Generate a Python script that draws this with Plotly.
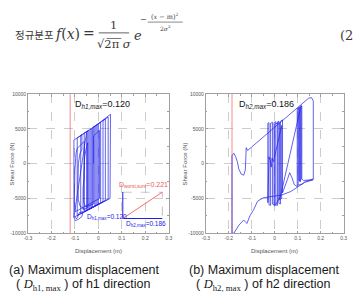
import plotly.graph_objects as go

W, H = 353, 297

# ---------------- data ----------------
# h1-direction hysteresis: displacement (m) / shear force (N)
h1_x = [-0.02, -0.02, 0.01, 0.01, -0.06, -0.06, -0.03, -0.03, -0.104, -0.104,
        -0.045, -0.045, -0.01, -0.01, 0.042, 0.042, 0.0, 0.0, 0.052, 0.05,
        -0.035, -0.035, -0.005, -0.005, -0.075, -0.075, -0.04, -0.04, 0.02, 0.02,
        0.03, 0.03, -0.015, -0.015, -0.025, -0.025, -0.09, -0.09, -0.07, -0.07,
        -0.078, -0.085, -0.087, -0.085, -0.078, -0.06, -0.045, -0.045, -0.05, -0.058,
        -0.062, -0.062, -0.055, -0.02, -0.02, 0.005, 0.005, -0.098, -0.102, -0.1,
        -0.095, -0.09, -0.06, -0.06, -0.065, -0.065, -0.05, -0.05, -0.104, -0.098,
        -0.085, -0.07, -0.065, -0.08, -0.092, -0.1]
h1_y = [0, 5300, 5950, -5650, -6900, 4400, 5050, -6400, -7700, 3400,
        4700, -6650, -6000, 5500, 6700, -5100, -5850, 5750, 7100, -5000,
        -6500, 4900, 5600, -5950, -7200, 4050, 4800, -6550, -5500, 6200,
        6400, -5300, -6100, 5400, 5200, -6300, -7450, 3700, 4150, 2000,
        1500, 0, -3000, -5200, -6100, -6500, -6300, 3000, 2500, 1000,
        -1500, -5500, -6200, -5800, 4000, 4800, -5000, -6900, -5500, -1000,
        1500, 2200, 3200, -2000, -3500, -6600, -6700, 4500, -7700, -8200,
        -8000, -7600, -6900, -7000, -7900, -7700]

# h2-direction hysteresis
h2_x = [-0.186, -0.186, -0.178, -0.170, -0.163, -0.156, -0.146, -0.135, -0.128, -0.125,
        -0.124, -0.118, 0.147, 0.160, 0.168, 0.168, 0.150, 0.125, 0.118, 0.118,
        0.112, 0.112, 0.105, 0.105, 0.098, 0.098, 0.085, 0.075, 0.065, 0.055,
        0.04, 0.034, 0.034, 0.025, 0.025, 0.018, 0.018, 0.012, 0.012, 0.005,
        0.005, -0.003, -0.003, -0.01, -0.01, -0.018, -0.018, -0.025, -0.025, -0.03,
        -0.03, -0.025, -0.02, -0.015, -0.012, -0.005, 0.03, 0.03, 0.02, 0.02,
        0.0, 0.0, 0.025, 0.115, 0.115, 0.108, 0.108, 0.102, 0.102, 0.12,
        0.135, 0.168]
h2_y = [-10000, 1200, 1500, 1000, 300, -800, -1500, -1650, -900, 900,
        2300, 1900, 9400, 9500, 9000, -2200, -2350, -2400, -2200, 8300,
        8100, -2600, -2400, 8000, 7900, -3300, -3000, -2000, -1300, -2300,
        -3800, -4200, 6300, 6100, -5800, -5700, 6100, 6000, -6000, -5900,
        6050, 5900, -5950, -5800, 5950, 5800, -6000, -5900, 5900, 5800,
        -5600, 1000, 500, -500, 800, 300, 5500, -5000, -5200, 5900,
        5700, -6100, -4700, 8400, -2300, -2500, 8200, 8000, -3100, -2900,
        -2500, -2300]
h2_low_x = [-0.186, -0.178, -0.156, -0.135, -0.121, -0.107, -0.093, -0.075, -0.05, -0.02,
            0.03, 0.07, 0.1, 0.13, 0.168]
h2_low_y = [-10000, -10000, -8830, -8110, -8590, -7420, -6710, -5400, -4900, -4750,
            -4500, -4000, -3400, -2700, -2300]

d_h1_max = 0.120
d_h2_max = 0.186
d_worst_sum = 0.221

x_ticks = [-0.3, -0.2, -0.1, 0, 0.1, 0.2, 0.3]
x_tick_labels = ["-0.3", "-0.2", "-0.1", "0", "0.1", "0.2", "0.3"]
y_ticks = [-10000, -5000, 0, 5000, 10000]
y_tick_labels = ["-10000", "-5000", "0", "5000", "10000"]
disp_range = [-0.3, 0.3]
force_range = [-10000, 10000]

# ---------------- helpers ----------------
def PX(x):
    return x / W

def PY(y):
    return 1 - y / H

BLUE = "#2020e8"
RED = "#f07070"
SERIF = "DejaVu Serif"
SANS = "Liberation Sans"
FRAME = "#a0a0a0"

fig = go.Figure()

# left plot
fig.add_trace(go.Scatter(x=[-d_h1_max, -d_h1_max], y=force_range, mode="lines",
                         line=dict(color=RED, width=0.8), xaxis="x", yaxis="y"))
fig.add_trace(go.Scatter(x=h1_x, y=h1_y, mode="lines",
                         line=dict(color=BLUE, width=0.7), xaxis="x", yaxis="y"))
# right plot
fig.add_trace(go.Scatter(x=[-d_h2_max, -d_h2_max], y=force_range, mode="lines",
                         line=dict(color=RED, width=0.8), xaxis="x2", yaxis="y2"))
fig.add_trace(go.Scatter(x=h2_low_x, y=h2_low_y, mode="lines",
                         line=dict(color=BLUE, width=0.7), xaxis="x2", yaxis="y2"))
fig.add_trace(go.Scatter(x=h2_x, y=h2_y, mode="lines",
                         line=dict(color=BLUE, width=0.7), xaxis="x2", yaxis="y2"))
# inset vector diagram
fig.add_trace(go.Scatter(x=[0, d_h2_max, d_h2_max], y=[d_h1_max, d_h1_max, 0], mode="lines",
                         line=dict(color="#a0a0a0", width=0.7, dash="dash"), xaxis="x3", yaxis="y3"))
fig.add_trace(go.Scatter(x=[0, d_h2_max], y=[0, 0], mode="lines",
                         line=dict(color=BLUE, width=1.1), xaxis="x3", yaxis="y3"))
fig.add_trace(go.Scatter(x=[0, 0], y=[0, d_h1_max], mode="lines",
                         line=dict(color=BLUE, width=1.1), xaxis="x3", yaxis="y3"))
fig.add_trace(go.Scatter(x=[0, d_h2_max], y=[0, d_h1_max], mode="lines",
                         line=dict(color=RED, width=1.0), xaxis="x3", yaxis="y3"))

ydom = [PY(235), PY(93)]

def xax(dom):
    return dict(domain=dom, range=disp_range, tickvals=x_ticks, ticktext=x_tick_labels,
                ticks="inside", ticklen=2.5, tickwidth=0.6, tickcolor=FRAME,
                showline=True, linecolor=FRAME, linewidth=0.8, mirror="ticks",
                showgrid=True, gridcolor="#cccccc", gridwidth=0.6, griddash="dash",
                zeroline=False, tickfont=dict(family=SANS, size=5, color="#555"),
                minor=dict(ticks="inside", ticklen=1.5, dtick=0.05, tickcolor=FRAME, tickwidth=0.5),
                fixedrange=True)

def yax(anchor):
    return dict(domain=ydom, range=force_range, tickvals=y_ticks, ticktext=y_tick_labels,
                ticks="inside", ticklen=2.5, tickwidth=0.6, tickcolor=FRAME,
                showline=True, linecolor=FRAME, linewidth=0.8, mirror="ticks",
                showgrid=True, gridcolor="#cccccc", gridwidth=0.6, griddash="dash",
                zeroline=False, tickfont=dict(family=SANS, size=5, color="#555"),
                minor=dict(ticks="inside", ticklen=1.5, dtick=2500, tickcolor=FRAME, tickwidth=0.5),
                anchor=anchor, fixedrange=True)

# inset domain: x from 0 to d_h2_max spans px 121.5..162 ; y 0..d_h1_max spans py 220..193
ix0, ix1 = -0.003, 0.19
iy0, iy1 = -0.003, 0.123
sx = (162 - 121.5) / d_h2_max
sy = (220 - 193) / d_h1_max

fig.update_layout(
    width=W, height=H, autosize=False,
    margin=dict(l=0, r=0, t=0, b=0),
    paper_bgcolor="white", plot_bgcolor="rgba(0,0,0,0)",
    showlegend=False,
    xaxis=xax([PX(24.5), PX(168.5)]),
    yaxis=yax("x"),
    xaxis2=xax([PX(206.5), PX(347.5)]),
    yaxis2=yax("x2"),
    xaxis3=dict(domain=[PX(121.5 + ix0 * sx), PX(121.5 + ix1 * sx)], range=[ix0, ix1],
                visible=False, anchor="y3", fixedrange=True),
    yaxis3=dict(domain=[PY(220 - iy0 * sy), PY(220 - iy1 * sy)], range=[iy0, iy1],
                visible=False, anchor="x3", fixedrange=True),
)

ann = []

def A(text, x, y, size, color="#333", family=SANS, xanchor="left", angle=0):
    ann.append(dict(text=text, x=PX(x), y=PY(y), xref="paper", yref="paper",
                    xanchor=xanchor, yanchor="middle", showarrow=False, textangle=angle,
                    font=dict(family=family, size=size, color=color)))

# formula
A("정규분포", 9, 32, 10.5, "#3a3a3a", "Noto Sans CJK KR")
A("<i>f</i>(<i>x</i>)", 50, 32, 14, "#3a3a3a", SERIF)
A("=", 87, 31, 14, "#3a3a3a", SERIF, "center")
A("1", 112.5, 22, 11.5, "#3a3a3a", SERIF, "center")
A("√2π <i>σ</i>", 113, 42, 11.5, "#3a3a3a", SERIF, "center")
A("<i>e</i>", 131, 33, 13, "#3a3a3a", SERIF)
A("−", 143, 16.5, 8, "#3a3a3a", SERIF, "center")
A("(<i>x</i> − m)<sup>2</sup>", 165, 14, 6.5, "#3a3a3a", SERIF, "center")
A("2<i>σ</i><sup>2</sup>", 165, 26, 6, "#3a3a3a", SERIF, "center")
A("(2", 342, 33, 13, "#3a3a3a", SERIF)

# plot labels
A("D<sub><i>h1,max</i></sub>=%.3f" % d_h1_max, 71, 104, 9, "#111")
A("D<sub><i>h2,max</i></sub>=%.3f" % d_h2_max, 238, 104, 9, "#111")
A("D<sub>worst,sum</sub>=%.3f" % d_worst_sum, 116, 186, 7, "#e85a5a")
A("D<sub>h1,max</sub>=%.3f" % d_h1_max, 83, 218, 6.5, BLUE)
A("D<sub>h2,max</sub>=%.3f" % d_h2_max, 123, 226, 6.5, BLUE)

# axis titles
A("Shear Force (N)", 8, 164, 6, "#555", SANS, "center", -90)
A("Shear Force (N)", 185, 164, 6, "#555", SANS, "center", -90)
A("Displacement (m)", 96.5, 253, 6, "#555", SANS, "center")
A("Displacement (m)", 277, 253, 6, "#555", SANS, "center")

# captions
A("(a) Maximum displacement", 82.5, 272, 12.5, "#1a1a1a", SANS, "center")
A("(b) Maximum displacement", 266.5, 272, 12.5, "#1a1a1a", SANS, "center")
A("( <i><span style='font-family:Liberation Serif'>D</span></i><sub><span style='font-family:Liberation Serif'>h1, max</span></sub> ) of h1 direction",
  81, 287.5, 12.5, "#1a1a1a", SANS, "center")
A("( <i><span style='font-family:Liberation Serif'>D</span></i><sub><span style='font-family:Liberation Serif'>h2, max</span></sub> ) of h2 direction",
  266, 287.5, 12.5, "#1a1a1a", SANS, "center")

fig.update_layout(annotations=ann)

# fraction bars and radical overline
def L(x0, y0, x1, y1, w=0.8):
    return dict(type="line", xref="paper", yref="paper", x0=PX(x0), y0=PY(y0), x1=PX(x1), y1=PY(y1),
                line=dict(color="#3a3a3a", width=w))

fig.update_layout(shapes=[L(97, 30.5, 128, 30.5), L(105, 36.2, 120, 36.2, 0.7), L(147, 19.5, 183, 19.5, 0.6)])

fig.write_html("out.html")
